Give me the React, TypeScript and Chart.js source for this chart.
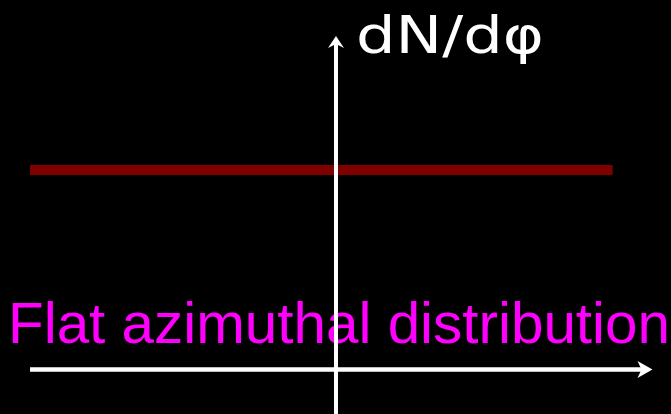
import React, { useEffect, useRef } from "react";
import { Chart, registerables } from "chart.js";

Chart.register(...registerables);

// Data
const phiValues = [-3.14159, 2.84];
const dNdPhiValues = [1, 1];
const axisLabelY = "dN/dφ";
const captionText = "Flat azimuthal distribution";
const xAxisRange = [-3.14159, 3.25];
const yAxisTop = 1.672;

const axesPlugin = {
  id: "physAxes",
  beforeDatasetsDraw(chart: any) {
    const ctx = chart.ctx;
    ctx.save();
    ctx.fillStyle = "#ff00ff";
    ctx.font = "57px 'Liberation Sans', Arial, sans-serif";
    ctx.textBaseline = "alphabetic";
    const w = ctx.measureText(captionText).width;
    const sx = 662 / w;
    ctx.translate(8, 343);
    ctx.scale(sx, 1);
    ctx.fillText(captionText, 0, 0);
    ctx.restore();
  },
  afterDatasetsDraw(chart: any) {
    const ctx = chart.ctx;
    const xs = chart.scales.x;
    const ys = chart.scales.y;
    const x0 = xs.getPixelForValue(0);
    const y0 = ys.getPixelForValue(0);
    const xL = xs.getPixelForValue(xAxisRange[0]);
    const xR = xs.getPixelForValue(xAxisRange[1]);
    const yT = ys.getPixelForValue(yAxisTop);
    ctx.save();
    ctx.strokeStyle = "#ffffff";
    ctx.fillStyle = "#ffffff";
    ctx.lineWidth = 4.5;
    ctx.beginPath();
    ctx.moveTo(xL, y0);
    ctx.lineTo(xR - 8, y0);
    ctx.stroke();
    ctx.beginPath();
    ctx.moveTo(xR, y0);
    ctx.lineTo(xR - 15, y0 - 8.5);
    ctx.lineTo(xR - 11, y0);
    ctx.lineTo(xR - 15, y0 + 8.5);
    ctx.closePath();
    ctx.fill();
    ctx.lineWidth = 4;
    ctx.beginPath();
    ctx.moveTo(x0, chart.height);
    ctx.lineTo(x0, yT + 8);
    ctx.stroke();
    ctx.beginPath();
    ctx.moveTo(x0, yT);
    ctx.lineTo(x0 - 8, yT + 12);
    ctx.lineTo(x0, yT + 8);
    ctx.lineTo(x0 + 8, yT + 12);
    ctx.closePath();
    ctx.fill();
    // y label
    ctx.font = "51px 'DejaVu Sans', sans-serif";
    ctx.textBaseline = "alphabetic";
    const w = ctx.measureText(axisLabelY).width;
    ctx.translate(356, 53);
    ctx.scale(188 / w, 1);
    ctx.fillText(axisLabelY, 0, 0);
    ctx.restore();
  },
};

export default function App() {
  const ref = useRef<HTMLCanvasElement>(null);
  useEffect(() => {
    document.body.style.margin = "0";
    document.body.style.background = "#000";
    const chart = new Chart(ref.current!, {
      type: "line",
      data: {
        datasets: [
          {
            data: phiValues.map((p, i) => ({ x: p, y: dNdPhiValues[i] })),
            borderColor: "#800000",
            borderWidth: 10,
            borderCapStyle: "butt",
            pointRadius: 0,
            fill: false,
            tension: 0,
          },
        ],
      },
      options: {
        animation: false,
        responsive: false,
        maintainAspectRatio: false,
        layout: { padding: 0 },
        plugins: { legend: { display: false }, tooltip: { enabled: false } },
        scales: {
          x: { type: "linear", min: -3.45, max: 3.44, display: false },
          y: { type: "linear", min: -0.223, max: 1.852, display: false },
        },
      },
      plugins: [axesPlugin],
    });
    return () => chart.destroy();
  }, []);
  return (
    <div style={{ width: 671, height: 414, background: "#000" }}>
      <canvas ref={ref} width={671} height={414} style={{ display: "block" }} />
    </div>
  );
}
